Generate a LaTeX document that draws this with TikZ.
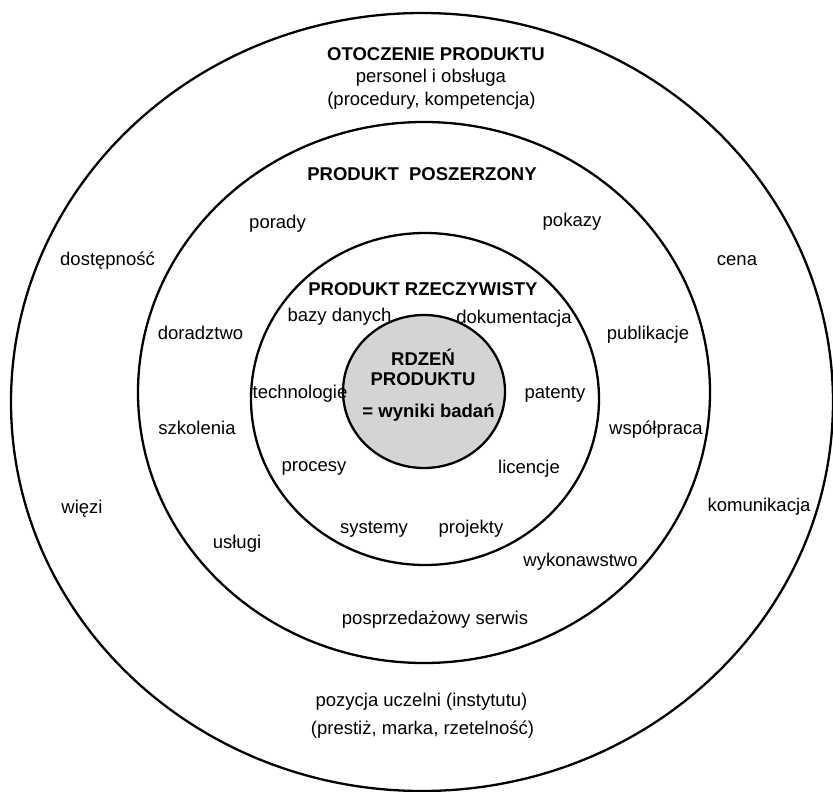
\documentclass[tikz,border=0pt]{standalone}
\usepackage{fontspec}
\setmainfont{Liberation Sans}
\definecolor{coregrey}{RGB}{211,212,214}
\begin{document}
\begin{tikzpicture}[x=1pt,y=-1pt,
        lbl/.style={anchor=base,inner sep=0pt,font=\fontsize{18.5}{22}\selectfont},
        hdr/.style={lbl,font=\fontsize{18.5}{22}\selectfont\bfseries},
        ring/.style={line width=2.3pt}]
                \useasboundingbox (0,0) rectangle (833,792);
                % rings
                \draw[ring] (422,402) ellipse [x radius=411pt, y radius=389pt];
                \draw[ring] (424,392.5) ellipse [x radius=286pt, y radius=270.5pt];
                \draw[ring] (425,399) ellipse [x radius=174pt, y radius=166pt];
                \draw[ring,fill=coregrey] (424,391.5) ellipse [x radius=81pt, y radius=76.5pt];
                % outer ring
                \node[hdr] (otoczenie) at (436,60) {OTOCZENIE PRODUKTU};
                \node[lbl] (personel) at (431,83) {personel i obsługa};
                \node[lbl] (procedury) at (431.5,106) {(procedury, kompetencja)};
                \node[lbl] (dostepnosc) at (107.5,265) {dostępność};
                \node[lbl] (cena) at (737,265) {cena};
                \node[lbl] (wiezi) at (82,513) {więzi};
                \node[lbl] (komunikacja) at (759,511) {komunikacja};
                \node[lbl] (pozycja) at (421.5,706) {pozycja uczelni (instytutu)};
                \node[lbl] (prestiz) at (422.5,734) {(prestiż, marka, rzetelność)};
                % middle ring
                \node[hdr] (poszerzony) at (422,180) {PRODUKT~~POSZERZONY};
                \node[lbl] (porady) at (277.5,228) {porady};
                \node[lbl] (pokazy) at (572,226) {pokazy};
                \node[lbl] (doradztwo) at (200.5,339) {doradztwo};
                \node[lbl] (publikacje) at (648,339) {publikacje};
                \node[lbl] (szkolenia) at (197,434) {szkolenia};
                \node[lbl] (wspolpraca) at (656,434) {współpraca};
                \node[lbl] (uslugi) at (237,548) {usługi};
                \node[lbl] (wykonawstwo) at (580.5,566) {wykonawstwo};
                \node[lbl] (serwis) at (435,624) {posprzedażowy serwis};
                % inner ring
                \node[hdr] (rzeczywisty) at (423,295) {PRODUKT RZECZYWISTY};
                \node[lbl] (bazy) at (339.5,321) {bazy danych};
                \node[lbl] (dokumentacja) at (514,323) {dokumentacja};
                \node[lbl] (technologie) at (300,398) {technologie};
                \node[lbl] (patenty) at (555,398) {patenty};
                \node[lbl] (procesy) at (314,471) {procesy};
                \node[lbl] (licencje) at (529,473) {licencje};
                \node[lbl] (systemy) at (374,533) {systemy};
                \node[lbl] (projekty) at (471,533) {projekty};
                % core
                \node[hdr] (rdzen) at (423,365) {RDZEŃ};
                \node[hdr] (produktu) at (423,385) {PRODUKTU};
                \node[hdr] (wyniki) at (428.5,417) {= wyniki badań};
\end{tikzpicture}
\end{document}
